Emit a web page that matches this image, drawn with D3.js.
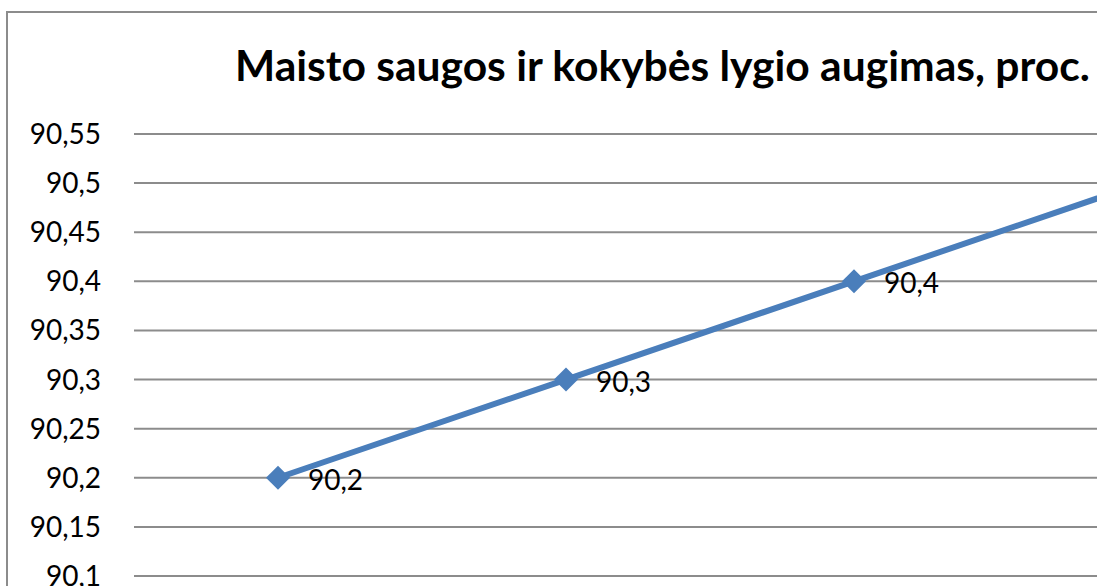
<!DOCTYPE html>
<html>
<head>
<meta http-equiv='Content-Type' content='text/html; charset=UTF-8'/>
<script src="https://cdn.jsdelivr.net/npm/d3@7"></script>
<style>
    body { margin: 0; background: #fff; }
    svg { display: block; }
    .grid line { stroke: #8c8c8c; stroke-width: 2; }
    .tick-label { font-family: Lato, "Open Sans", sans-serif; font-size: 28px; fill: #000; }
    .value-label { font-family: Lato, "Open Sans", sans-serif; font-size: 28px; fill: #000; }
    .title { font-family: Lato, "Open Sans", sans-serif; font-weight: bold; fill: #000; }
</style>
</head>
<body>
<svg id="main" width="1097" height="586"></svg>
<script>
    // data (x labels sit below the visible area)
    var categories = ['1', '2', '3', '4']
    var values = [90.2, 90.3, 90.4, 90.5]
    var yTicks = [90.1, 90.15, 90.2, 90.25, 90.3, 90.35, 90.4, 90.45, 90.5, 90.55]
    var title = 'Maisto saugos ir kokybės lygio augimas, proc.'

    var svg = d3.select('#main')
    var fmt = function(v){ return String(+v.toFixed(2)).replace('.', ',') }

    // chart frame (extends past the window edges)
    svg.append('rect')
        .attr('x', 7).attr('y', 12)
        .attr('width', 1400).attr('height', 900)
        .attr('fill', '#fff')
        .attr('stroke', '#8c8c8c').attr('stroke-width', 2)

    var y = d3.scaleLinear().domain([90.1, 90.55]).range([576, 134])
    var x = d3.scaleBand().domain(categories).range([134, 134 + 288 * categories.length])

    // gridlines
    svg.append('g').attr('class', 'grid')
        .selectAll('line')
        .data(yTicks)
        .enter().append('line')
        .attr('x1', 134).attr('x2', 1400)
        .attr('y1', d => y(d)).attr('y2', d => y(d))

    // y tick labels
    svg.append('g')
        .selectAll('text')
        .data(yTicks)
        .enter().append('text')
        .attr('class', 'tick-label')
        .attr('x', 101)
        .attr('y', d => y(d) + 10)
        .attr('text-anchor', 'end')
        .text(fmt)

    // series line
    var line = d3.line()
        .x((d, i) => x(categories[i]) + x.bandwidth() / 2)
        .y(d => y(d))

    svg.append('path')
        .datum(values)
        .attr('d', line)
        .attr('fill', 'none')
        .attr('stroke', '#4a7ebb')
        .attr('stroke-width', 6)
        .attr('stroke-linejoin', 'round')

    // diamond markers (square turned 45deg)
    svg.append('g')
        .selectAll('path')
        .data(values)
        .enter().append('path')
        .attr('d', d3.symbol().type(d3.symbolSquare).size(290))
        .attr('transform', (d, i) => 'translate(' + (x(categories[i]) + x.bandwidth() / 2) + ',' + y(d) + ') rotate(45)')
        .attr('fill', '#4a7ebb')

    // value labels
    svg.append('g')
        .selectAll('text')
        .data(values)
        .enter().append('text')
        .attr('class', 'value-label')
        .attr('x', (d, i) => x(categories[i]) + x.bandwidth() / 2 + 30)
        .attr('y', d => y(d) + 12)
        .text(fmt)

    // title, sized to span the same width as the reference
    var t = svg.append('text')
        .attr('class', 'title')
        .attr('x', 235).attr('y', 81)
        .style('font-size', '39px')
        .text(title)
    var w = t.node().getComputedTextLength()
    t.style('font-size', (39 * 855 / w) + 'px')
</script>
</body>
</html>
